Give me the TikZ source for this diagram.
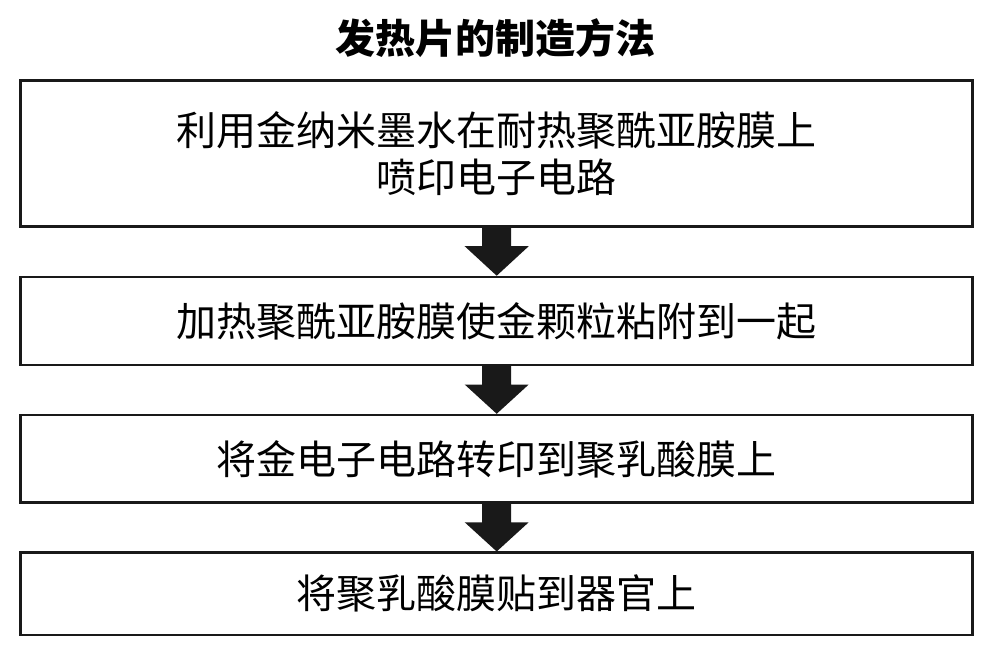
\documentclass[tikz,border=0pt]{standalone}
\usepackage{fontspec}
\setmainfont{Noto Sans CJK SC}
\usetikzlibrary{calc}
\tikzset{
 stepbox/.style={draw=black!90, line width=2.5pt, minimum width=952pt, inner sep=0, align=center, font=\fontsize{40}{47}\selectfont},
 downarrow/.style={fill=black!90}
}
\newcommand{\stepdown}[2]{
 \fill[downarrow] ($(#1.south)+(-14.5,0)$) -- ($(#1.south)+(14.5,0)$) -- ($(#1.south)+(14.5,-18.3)$) -- ($(#1.south)+(32,-18.3)$)
  -- (#2.north) -- ($(#1.south)+(-32,-18.3)$) -- ($(#1.south)+(-14.5,-18.3)$) -- cycle;
}

\begin{document}
\begin{tikzpicture}[x=1pt,y=1pt]
\useasboundingbox (0,0) rectangle (993,655);
\node (title) at (495,617) {\fontsize{40}{47}\selectfont\bfseries 发热片的制造方法};

\node[stepbox, minimum height=146pt] (print) at (496.7,501.3) {利用金纳米墨水在耐热聚酰亚胺膜上\\喷印电子电路};
\node[stepbox, minimum height=88pt] (heat) at (496.7,334) {加热聚酰亚胺膜使金颗粒粘附到一起};
\node[stepbox, minimum height=87.7pt] (transfer) at (496.7,196.1) {将金电子电路转印到聚乳酸膜上};
\node[stepbox, minimum height=82.3pt] (attach) at (496.7,61.1) {将聚乳酸膜贴到器官上};

% arrows between the steps
\stepdown{print}{heat}
\stepdown{heat}{transfer}
\stepdown{transfer}{attach}
\end{tikzpicture}
\end{document}
